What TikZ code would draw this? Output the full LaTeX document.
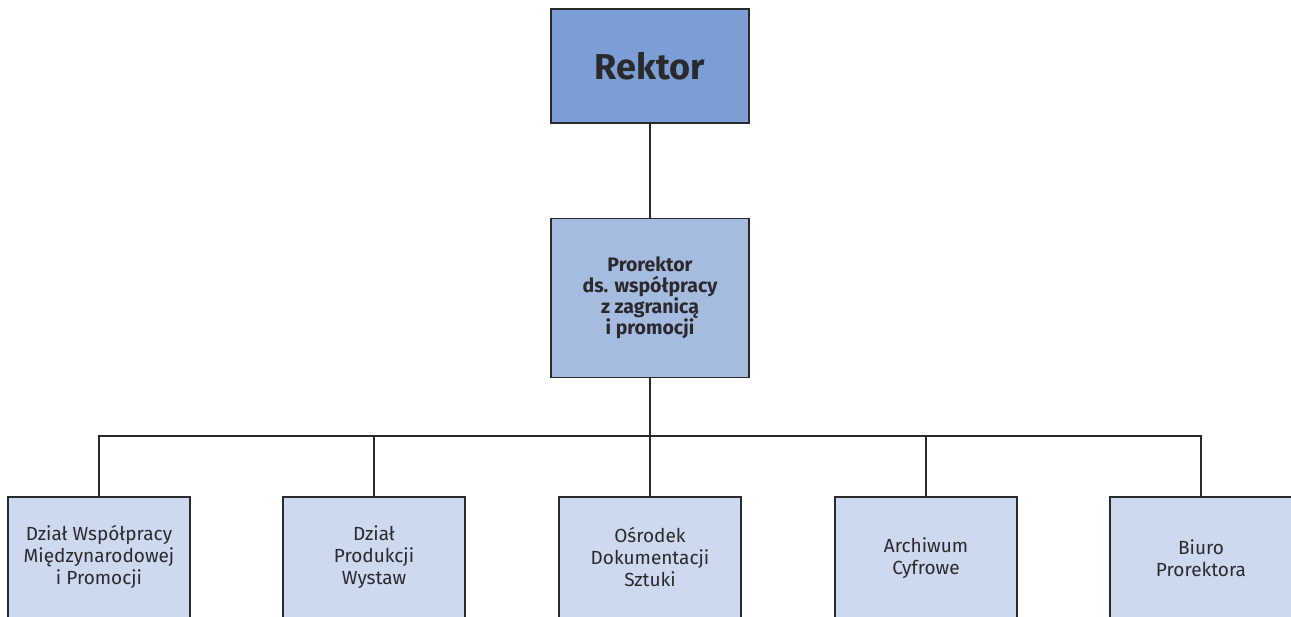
\documentclass[tikz,border=0pt]{standalone}
\usepackage{fontspec}
\setmainfont{Fira Sans}
\usetikzlibrary{calc}
\definecolor{rektorfill}{HTML}{7B9FD4}
\definecolor{prorfill}{HTML}{A6BBE0}
\definecolor{unitfill}{HTML}{CDD9EE}
\definecolor{edge}{HTML}{2A2A2C}
\tikzset{
  x=1pt, y=-1pt,
  box/.style={draw=edge, line width=1.8pt, inner sep=0pt},
  topbox/.style={box, fill=rektorfill, minimum width=198pt, minimum height=114pt,
    font=\fontsize{36}{40}\selectfont\bfseries},
  midbox/.style={box, fill=prorfill, minimum width=198pt, minimum height=159pt,
    align=center, font=\fontsize{19.5}{21}\selectfont\bfseries},
  unitbox/.style={box, fill=unitfill, minimum width=182pt, minimum height=200pt, anchor=north},
  unittext/.style={align=center, inner sep=0pt, text=edge,
    font=\fontsize{19}{22}\selectfont},
  link/.style={draw=edge, line width=1.8pt},
}
\begin{document}
\begin{tikzpicture}
\useasboundingbox (0,0) rectangle (1291,617);
\clip (0,0) rectangle (1291,617);

% management boxes
\node[topbox, text=edge] (rektor) at (650,66) {Rektor};
\node[midbox, text=edge] (prorektor) at (650,298)
  {Prorektor\\ds. współpracy\\z zagranicą\\i promocji};

% units (cut off at the lower edge)
\node[unitbox] (u1) at (99,496) {};
\node[unitbox] (u2) at (374,496) {};
\node[unitbox] (u3) at (650,496) {};
\node[unitbox] (u4) at (926,496) {};
\node[unitbox] (u5) at (1201,496) {};

\node[unittext] (t1) at ($(u1.north)+(0,61)$) {Dział Współpracy\\Międzynarodowej\\i Promocji};
\node[unittext] (t2) at ($(u2.north)+(0,61)$) {Dział\\Produkcji\\Wystaw};
\node[unittext] (t3) at ($(u3.north)+(0,61)$) {Ośrodek\\Dokumentacji\\Sztuki};
\node[unittext] (t4) at ($(u4.north)+(0,62)$) {Archiwum\\Cyfrowe};
\node[unittext] (t5) at ($(u5.north)+(0,62)$) {Biuro\\Prorektora};

% connectors
\coordinate (bus) at (650,436);
\path[link] (rektor.south) -- (prorektor.north);
\path[link] (prorektor.south) -- (bus) -- (u3.north);
\path[link] (u1.north) |- (bus) -| (u5.north);
\path[link] (u2.north) -- (u2.north |- bus);
\path[link] (u4.north) -- (u4.north |- bus);
\end{tikzpicture}
\end{document}
